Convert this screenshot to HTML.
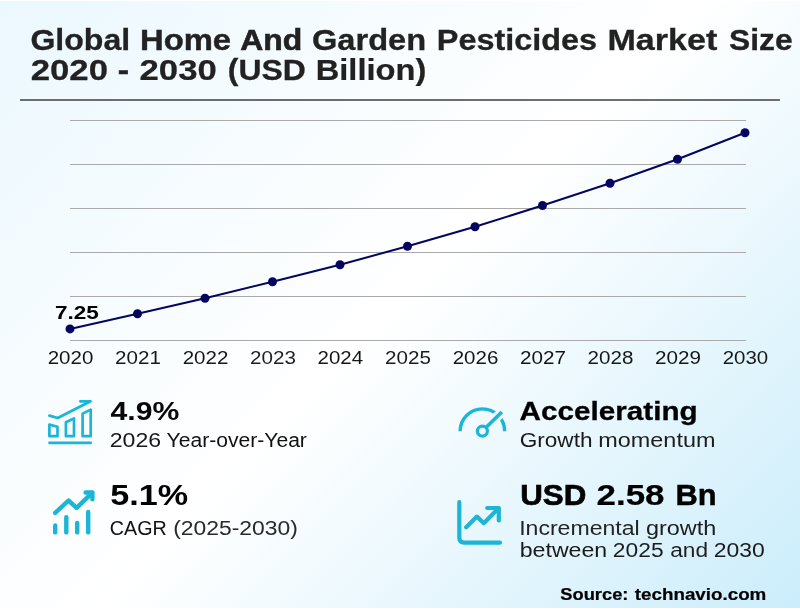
<!DOCTYPE html>
<html lang="en">
<head>
<meta charset="utf-8">
<title>Global Home And Garden Pesticides Market Size</title>
<style>
  html, body { margin: 0; padding: 0; background: #ffffff; }
  body { width: 800px; height: 610px; overflow: hidden; position: relative;
         font-family: "Liberation Sans", sans-serif; color: #000; }
  #card { position: absolute; left: 0; top: 1px; width: 800px; height: 607px;
          background: linear-gradient(135deg, #ebf8fe 0%, #ffffff 50%, #cbedfb 100%); }
  #content { position: absolute; left: 0; top: 0; width: 800px; height: 610px; will-change: transform; }
  h1 { margin: 0; font-size: inherit; font-weight: normal; }
  .ln { position: absolute; left: 0; display: block; width: 800px; height: 1em; margin: 0;
        line-height: 1; white-space: nowrap; font-weight: normal; }
  .b { font-weight: bold; }
  .w { position: absolute; left: 0; top: 0; display: block; white-space: pre; transform-origin: 0 0; line-height: 1; }
  #rule { position: absolute; left: 20px; top: 99px; width: 760px; height: 2px; background: #6c6e6e; }
  #chart { position: absolute; left: 0; top: 0; }
  svg.ic { position: absolute; overflow: visible; }
</style>
</head>
<body>
<div id="card"></div>
<div id="content">
<h1 id="title">
<span class="ln b" id="t1" style="top:25px; font-size:30px;"><span class="w" style="transform:translateX(30.43px) scaleX(1.0689); -webkit-text-stroke:0.27px; color:#222222;">Global </span><span class="w" style="transform:translateX(140.00px) scaleX(1.0923); -webkit-text-stroke:0.44px; color:#222222;">Home </span><span class="w" style="transform:translateX(240.27px) scaleX(1.0628); -webkit-text-stroke:0.62px; color:#222222;">And </span><span class="w" style="transform:translateX(312.00px) scaleX(1.0867); -webkit-text-stroke:0.29px; color:#222222;">Garden </span><span class="w" style="transform:translateX(436.81px) scaleX(1.0799); -webkit-text-stroke:0.29px; color:#222222;">Pesticides </span><span class="w" style="transform:translateX(607.41px) scaleX(1.1369); -webkit-text-stroke:0.29px; color:#222222;">Market </span><span class="w" style="transform:translateX(729.12px) scaleX(1.0576); -webkit-text-stroke:0.34px; color:#222222;">Size</span></span>
<span class="ln b" id="t2" style="top:55px; font-size:30px;"><span class="w" style="transform:translateX(30.65px) scaleX(1.1584); -webkit-text-stroke:0.27px; color:#222222;">2020 </span><span class="w" style="transform:translateX(117.87px) scaleX(1.1357); -webkit-text-stroke:0.48px; color:#222222;">- </span><span class="w" style="transform:translateX(139.54px) scaleX(1.1579); -webkit-text-stroke:0.24px; color:#222222;">2030 </span><span class="w" style="transform:translateX(227.80px) scaleX(1.0649); -webkit-text-stroke:0.29px; color:#222222;">(USD </span><span class="w" style="transform:translateX(315.71px) scaleX(1.0879); -webkit-text-stroke:0.21px; color:#222222;">Billion)</span></span>
</h1>
<div id="rule"></div>
<svg id="chart" width="800" height="380" viewBox="0 0 800 380">
  <g stroke="#aaaaaa" stroke-width="1" shape-rendering="crispEdges">
    <line x1="70" y1="120.5" x2="745.6" y2="120.5"/>
    <line x1="70" y1="164.5" x2="745.6" y2="164.5"/>
    <line x1="70" y1="208.5" x2="745.6" y2="208.5"/>
    <line x1="70" y1="252.5" x2="745.6" y2="252.5"/>
    <line x1="70" y1="296.5" x2="745.6" y2="296.5"/>
    <line x1="70" y1="340.5" x2="745.6" y2="340.5"/>
  </g>
  <polyline fill="none" stroke="#05055f" stroke-width="2" stroke-linejoin="round"
    points="70,328.9 137.5,313.75 205,298.25 272.5,281.75 340,264.75 407.5,246.25 475,226.75 542.5,205.5 610,183.25 677.5,159.25 745,132.75"/>
  <g fill="#05055f">
    <circle cx="70" cy="328.9" r="4.5"/>
    <circle cx="137.5" cy="313.75" r="4.5"/>
    <circle cx="205" cy="298.25" r="4.5"/>
    <circle cx="272.5" cy="281.75" r="4.5"/>
    <circle cx="340" cy="264.75" r="4.5"/>
    <circle cx="407.5" cy="246.25" r="4.5"/>
    <circle cx="475" cy="226.75" r="4.5"/>
    <circle cx="542.5" cy="205.5" r="4.5"/>
    <circle cx="610" cy="183.25" r="4.5"/>
    <circle cx="677.5" cy="159.25" r="4.5"/>
    <circle cx="745" cy="132.75" r="4.5"/>
  </g>
</svg>
<div class="ln b" id="v0" style="top:304px; font-size:18px;"><span class="w" style="transform:translateX(54.89px) scaleX(1.2486); -webkit-text-stroke:0.03px; color:#000000;">7.25</span></div>
<div id="xaxis">
<span class="ln" id="x0" style="top:349px; font-size:18px;"><span class="w" style="transform:translateX(47.74px) scaleX(1.1371); color:#151515;">2020</span></span>
<span class="ln" id="x1" style="top:349px; font-size:18px;"><span class="w" style="transform:translateX(115.08px) scaleX(1.1436); color:#181818;">2021</span></span>
<span class="ln" id="x2" style="top:349px; font-size:18px;"><span class="w" style="transform:translateX(182.67px) scaleX(1.1406); color:#171717;">2022</span></span>
<span class="ln" id="x3" style="top:349px; font-size:18px;"><span class="w" style="transform:translateX(250.09px) scaleX(1.1469); color:#1f1f1f;">2023</span></span>
<span class="ln" id="x4" style="top:349px; font-size:18px;"><span class="w" style="transform:translateX(317.52px) scaleX(1.1359); color:#161616;">2024</span></span>
<span class="ln" id="x5" style="top:349px; font-size:18px;"><span class="w" style="transform:translateX(385.08px) scaleX(1.1440); color:#1b1b1b;">2025</span></span>
<span class="ln" id="x6" style="top:349px; font-size:18px;"><span class="w" style="transform:translateX(452.70px) scaleX(1.1390); color:#151515;">2026</span></span>
<span class="ln" id="x7" style="top:349px; font-size:18px;"><span class="w" style="transform:translateX(520.03px) scaleX(1.1463); color:#131313;">2027</span></span>
<span class="ln" id="x8" style="top:349px; font-size:18px;"><span class="w" style="transform:translateX(587.60px) scaleX(1.1424); color:#181818;">2028</span></span>
<span class="ln" id="x9" style="top:349px; font-size:18px;"><span class="w" style="transform:translateX(655.03px) scaleX(1.1463); color:#151515;">2029</span></span>
<span class="ln" id="x10" style="top:349px; font-size:18px;"><span class="w" style="transform:translateX(722.72px) scaleX(1.1364); color:#181818;">2030</span></span>
</div>
<section class="stat" id="stat1"><svg class="ic" id="ic1" style="left:40px; top:392px;" width="70" height="60" viewBox="40 392 70 60">
  <g fill="none" stroke="#1bb6d6" stroke-width="2.7" stroke-linecap="round" stroke-linejoin="round">
    <line x1="49.5" y1="442.8" x2="90.7" y2="442.8"/>
    <path d="M49.4 424.6 L57.5 426.8 L57.5 436.2 L49.4 436.2 Z"/>
    <path d="M65.9 422.3 L74 418.4 L74 436.2 L65.9 436.2 Z"/>
    <path d="M82.6 413.6 L90.7 409.6 L90.7 436.2 L82.6 436.2 Z"/>
    <path d="M49.4 415.6 L57.7 418 L90.6 401.3 L80.3 401.3"/>
  </g>
</svg>
<div class="ln b" id="s1a" style="top:398px; font-size:26px;"><span class="w" style="transform:translateX(110.56px) scaleX(1.1608); color:#080808;">4.9%</span></div>
<div class="ln" id="s1b" style="top:430px; font-size:20.75px;"><span class="w" style="transform:translateX(109.77px) scaleX(1.1121); color:#181818;">2026 </span><span class="w" style="transform:translateX(166.58px) scaleX(1.0165); color:#111111;">Year-over-Year</span></div>
</section>
<section class="stat" id="stat2">
<svg class="ic" id="ic2" style="left:40px; top:480px;" width="70" height="60" viewBox="40 480 70 60">
  <g fill="none" stroke="#1bb6d6" stroke-width="4.4" stroke-linecap="round" stroke-linejoin="round">
    <path d="M55.2 512.9 L68.5 500.5 L76.6 507.8 L92.1 492.8"/>
    <path d="M85.6 492.5 L92.4 492.5 L92.4 499.3"/>
    <line x1="55.2" y1="525.4" x2="55.2" y2="532.4"/>
    <line x1="66.3" y1="517.3" x2="66.3" y2="532.4"/>
    <line x1="77.2" y1="523" x2="77.2" y2="532.4"/>
    <line x1="88.2" y1="512" x2="88.2" y2="532.4"/>
  </g>
</svg>
<div class="ln b" id="s2a" style="top:480px; font-size:29.5px;"><span class="w" style="transform:translateX(110.35px) scaleX(1.1586); color:#010101;">5.1%</span></div>
<div class="ln" id="s2b" style="top:518px; font-size:20.75px;"><span class="w" style="transform:translateX(109.85px) scaleX(0.9474); -webkit-text-stroke:0.02px; color:#111111;">CAGR </span><span class="w" style="transform:translateX(173.24px) scaleX(1.1022); color:#292929;">(2025-2030)</span></div>
</section>
<section class="stat" id="stat3">
<svg class="ic" id="ic3" style="left:445px; top:392px;" width="70" height="60" viewBox="445 392 70 60">
  <defs>
    <mask id="gap" maskUnits="userSpaceOnUse" x="445" y="392" width="70" height="60">
      <rect x="445" y="392" width="70" height="60" fill="#fff"/>
      <line x1="482.4" y1="431.1" x2="510" y2="403.9" stroke="#000" stroke-width="9.6"/>
    </mask>
  </defs>
  <g fill="none" stroke="#1bb6d6" stroke-width="3.4">
    <path d="M460.1 431.2 A22.3 22.3 0 0 1 504.7 431.2" mask="url(#gap)"/>
    <circle cx="482.4" cy="431.1" r="5" stroke-width="3.2"/>
    <line x1="486" y1="427.5" x2="501.8" y2="412.0" stroke-width="3.6"/>
  </g>
</svg>
<div class="ln b" id="s3a" style="top:398px; font-size:26px;"><span class="w" style="transform:translateX(519.58px) scaleX(1.1410); -webkit-text-stroke:0.30px; color:#000000;">Accelerating</span></div>
<div class="ln" id="s3b" style="top:430px; font-size:20.75px;"><span class="w" style="transform:translateX(519.75px) scaleX(1.0875); color:#191919;">Growth </span><span class="w" style="transform:translateX(598.31px) scaleX(1.1284); color:#1d1d1d;">momentum</span></div>
</section>
<section class="stat" id="stat4">
<svg class="ic" id="ic4" style="left:445px; top:485px;" width="70" height="70" viewBox="445 485 70 70">
  <g fill="none" stroke="#1bb6d6" stroke-width="4.2" stroke-linecap="round" stroke-linejoin="round">
    <path d="M459.3 502 L459.3 537.6 Q459.3 542.6 464.3 542.6 L500 542.6"/>
    <path d="M466.2 527.2 L476.9 516.6 L483.8 523.2 L498.5 508.3"/>
    <path d="M487.2 508 L498.8 508 L498.8 520.4"/>
  </g>
</svg>
<div class="ln b" id="s4a" style="top:480px; font-size:29.5px;"><span class="w" style="transform:translateX(520.27px) scaleX(1.0607); -webkit-text-stroke:0.65px; color:#000000;">USD </span><span class="w" style="transform:translateX(596.56px) scaleX(1.1836); -webkit-text-stroke:0.21px; color:#000000;">2.58 </span><span class="w" style="transform:translateX(675.41px) scaleX(1.0455); -webkit-text-stroke:0.46px; color:#000000;">Bn</span></div>
<div class="ln" id="s4b" style="top:518px; font-size:20.75px;"><span class="w" style="transform:translateX(519.15px) scaleX(1.1123); color:#242424;">Incremental </span><span class="w" style="transform:translateX(645.91px) scaleX(1.1296); color:#1d1d1d;">growth</span></div>
<div class="ln" id="s4c" style="top:540px; font-size:20.75px;"><span class="w" style="transform:translateX(519.70px) scaleX(1.1155); color:#1a1a1a;">between </span><span class="w" style="transform:translateX(612.87px) scaleX(1.0979); color:#1d1d1d;">2025 </span><span class="w" style="transform:translateX(670.18px) scaleX(1.0939); color:#1f1f1f;">and </span><span class="w" style="transform:translateX(713.81px) scaleX(1.1056); color:#1c1c1c;">2030</span></div>
</section>
<div class="ln b" id="src" style="top:586px; font-size:17px;"><span class="w" style="transform:translateX(560.29px) scaleX(1.0767); -webkit-text-stroke:0.24px; color:#000000;">Source: </span><span class="w" style="transform:translateX(634.77px) scaleX(1.1052); -webkit-text-stroke:0.22px; color:#000000;">technavio.com</span></div>
</div>
</body>
</html>
